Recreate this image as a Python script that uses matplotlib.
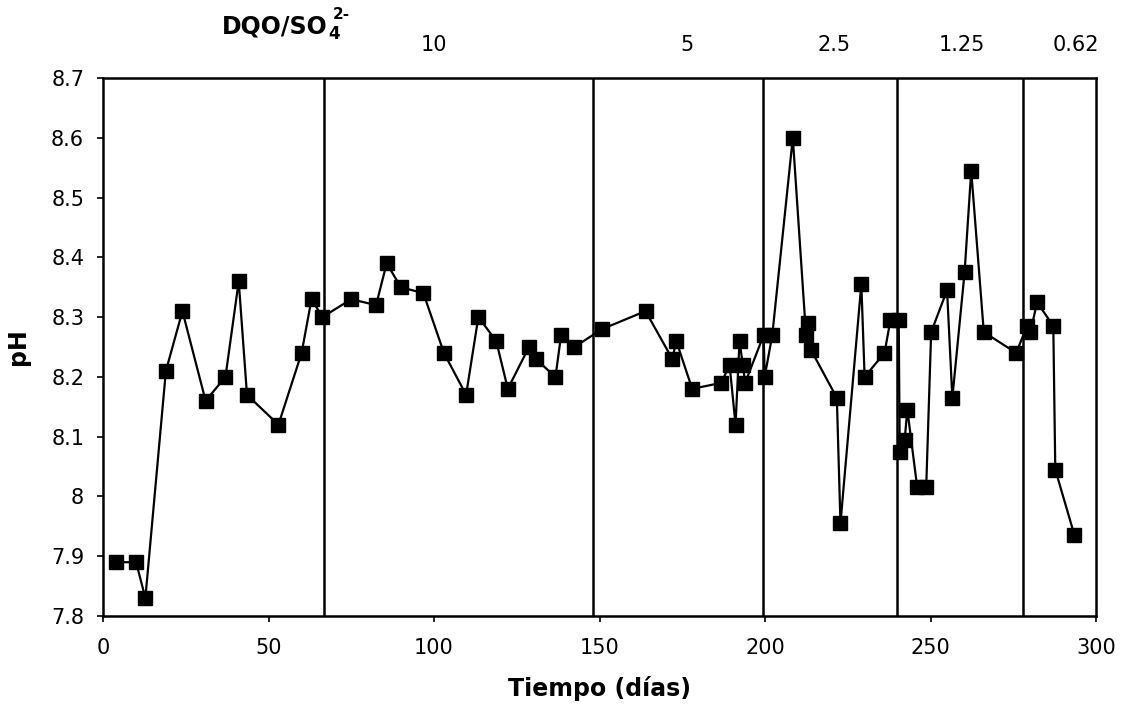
import matplotlib
matplotlib.use("Agg")
import matplotlib.pyplot as plt
import matplotlib.transforms as mtransforms
from matplotlib.ticker import FuncFormatter

# tiempo (dias) y pH
dias = [4, 10, 12.8, 19, 24, 31, 37, 41, 43.5, 53, 60, 63, 66.3,
        75, 82.5, 85.7, 90, 96.8, 103, 109.7, 113.4, 118.8, 122.3, 128.7, 130.7,
        136.7, 138.4, 142.4, 150.8, 163.9, 172, 173.2, 178, 186.8, 189.3, 191.1,
        192.3, 193.3, 194, 199.6, 199.9, 202.2, 208.4, 212.4, 212.9, 213.9, 221.7,
        222.8, 229.1, 230.1, 236.1, 237.9, 240.4, 240.7, 242.2, 243, 246, 248.7,
        250.2, 255, 256.6, 260.3, 262.3, 266.1, 275.9, 279.1, 280.2, 282.2,
        287.1, 287.7, 293.5]
ph = [7.89, 7.89, 7.83, 8.21, 8.31, 8.16, 8.20, 8.36, 8.17, 8.12, 8.24, 8.33, 8.30,
      8.33, 8.32, 8.39, 8.35, 8.34, 8.24, 8.17, 8.30, 8.26, 8.18, 8.25, 8.23,
      8.20, 8.27, 8.25, 8.28, 8.31, 8.23, 8.26, 8.18, 8.19, 8.22, 8.12,
      8.26, 8.22, 8.19, 8.27, 8.20, 8.27, 8.60, 8.27, 8.29, 8.245, 8.165,
      7.955, 8.355, 8.20, 8.24, 8.295, 8.295, 8.075, 8.095, 8.145, 8.015, 8.015,
      8.275, 8.345, 8.165, 8.375, 8.545, 8.275, 8.24, 8.285, 8.275, 8.325,
      8.285, 8.045, 7.935]

# cambios de la relacion DQO/SO4 y sus etiquetas
cambios = [66.7, 148, 199.5, 240, 278]
relaciones = ["10", "5", "2.5", "1.25", "0.62"]
pos_relaciones = [100, 176.5, 221, 259.5, 294]

plt.rcParams['font.family'] = ['DejaVu Sans']

fig = plt.figure(figsize=(11.29, 7.12), dpi=100)
ax = fig.add_axes([103 / 1129, 1 - 616 / 712, 993 / 1129, 538 / 712])

ax.plot(dias, ph, color="black", linewidth=1.6, marker="s", markersize=10,
        markerfacecolor="black", markeredgecolor="black")

for c in cambios:
    ax.axvline(c, color="black", linewidth=1.8)

ax.set_xlim(0, 300)
ax.set_ylim(7.8, 8.7)
ax.set_xticks(range(0, 301, 50))
ax.set_yticks([7.8 + 0.1 * i for i in range(10)])
ax.yaxis.set_major_formatter(FuncFormatter(lambda v, p: "%g" % round(v, 1)))
ax.tick_params(direction="out", length=4.5, width=1.2, labelsize=15)
ax.tick_params(axis="x", pad=11)
ax.tick_params(axis="y", pad=9)
for s in ax.spines.values():
    s.set_linewidth(1.8)

ax.set_xlabel("Tiempo (días)", fontsize=17, fontweight="bold", labelpad=13)
ax.set_ylabel("pH", fontsize=17, fontweight="bold", labelpad=15)

trans = mtransforms.blended_transform_factory(ax.transData, ax.transAxes)
for x, t in zip(pos_relaciones, relaciones):
    ax.text(x, 1.062, t, transform=trans, ha="center", va="center", fontsize=15)

titulo = ax.text(35.8, 1.096, "DQO/SO", transform=trans, ha="left", va="center",
                 fontsize=17, fontweight="bold")
ax.annotate("4", xy=(1, 0), xycoords=titulo, xytext=(0.5, -0.5),
            textcoords="offset points", ha="left", va="baseline",
            fontsize=12, fontweight="bold")
ax.annotate("2-", xy=(1, 1), xycoords=titulo, xytext=(4, 0),
            textcoords="offset points", ha="left", va="center",
            fontsize=11, fontweight="bold")

fig.savefig("out.png", dpi=100)
